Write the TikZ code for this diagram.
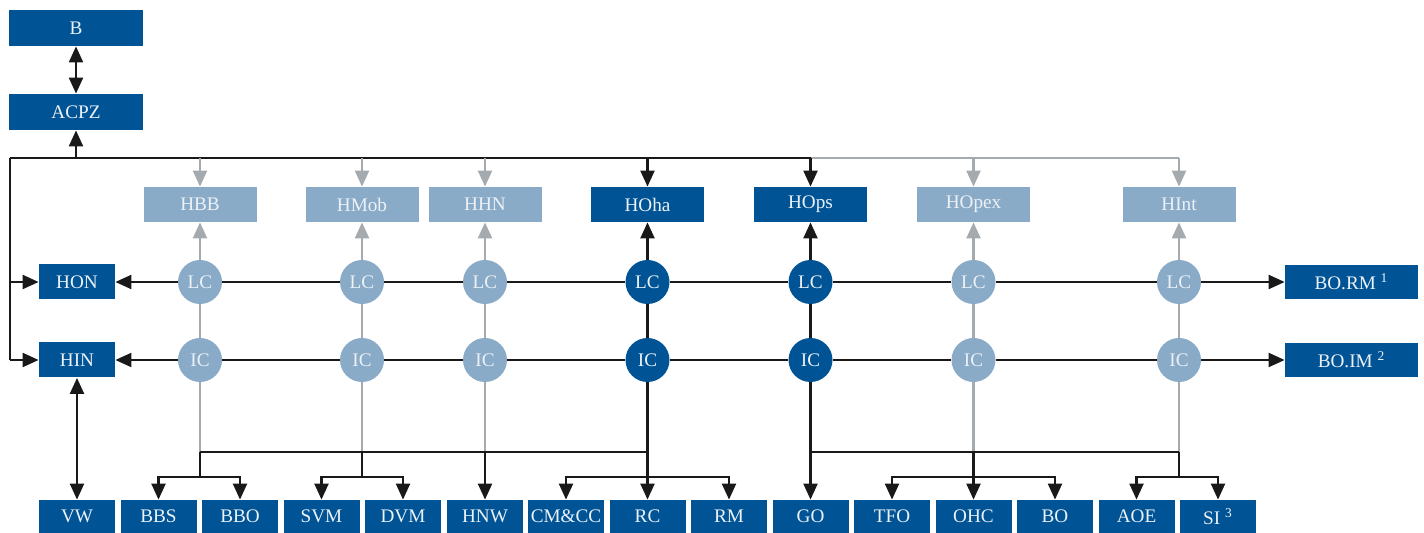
\documentclass[tikz,border=0pt]{standalone}
\usepackage{fontspec}
\setmainfont{Liberation Serif}
\usetikzlibrary{arrows.meta}
\definecolor{dkblue}{RGB}{0,84,150}
\definecolor{ltblue}{RGB}{138,171,200}
\definecolor{lnGray}{RGB}{165,170,174}
\definecolor{lnDark}{RGB}{25,25,25}
\definecolor{txtc}{RGB}{236,241,246}
\begin{document}
\begin{tikzpicture}[x=0.5pt,y=-0.5pt,
  box/.style={rectangle, inner sep=0pt, text=txtc, font=\fontsize{9.6}{12}\selectfont, minimum height=17.5pt},
  dbox/.style={box, fill=dkblue},
  lbox/.style={box, fill=ltblue},
  widebox/.style={minimum width=67pt, minimum height=18pt},
  midbox/.style={minimum width=56.5pt},
  smallbox/.style={minimum width=38pt},
  botbox/.style={dbox, minimum width=38pt, minimum height=16.5pt},
  rbox/.style={dbox, minimum width=66.5pt, minimum height=17pt},
  circ/.style={circle, inner sep=0pt, minimum size=22pt, text=txtc, font=\fontsize{9.6}{12}\selectfont},
  dcirc/.style={circ, fill=dkblue},
  lcirc/.style={circ, fill=ltblue},
  dline/.style={draw=lnDark, line width=1.1pt},
  gline/.style={draw=lnGray, line width=1.1pt},
  tip/.style={-{Triangle[length=8pt,width=7pt]}},
  tips/.style={{Triangle[length=8pt,width=7pt]}-{Triangle[length=8pt,width=7pt]}},
]
\useasboundingbox (0,0) rectangle (1424,533);

% left stack
\node[dbox,widebox] (B) at (76,28) {B};
\node[dbox,widebox] (ACPZ) at (76,112) {ACPZ};
\node[dbox,smallbox] (HON) at (77,282) {HON};
\node[dbox,smallbox] (HIN) at (77,360) {HIN};

% middle boxes
\node[lbox,midbox] (H1) at (200,204.5) {HBB};
\node[lbox,midbox] (H2) at (362,204.5) {HMob};
\node[lbox,midbox] (H3) at (485,204.5) {HHN};
\node[dbox,midbox] (H4) at (647.5,204.5) {HOha};
\node[dbox,midbox] (H5) at (810.5,204.5) {HOps};
\node[lbox,midbox] (H6) at (973.5,204.5) {HOpex};
\node[lbox,midbox] (H7) at (1179,204.5) {HInt};

% circles
\node[lcirc] (LC1) at (200,282) {LC};
\node[lcirc] (LC2) at (362,282) {LC};
\node[lcirc] (LC3) at (485,282) {LC};
\node[dcirc] (LC4) at (647.5,282) {LC};
\node[dcirc] (LC5) at (810.5,282) {LC};
\node[lcirc] (LC6) at (973.5,282) {LC};
\node[lcirc] (LC7) at (1179,282) {LC};
\node[lcirc] (IC1) at (200,360) {IC};
\node[lcirc] (IC2) at (362,360) {IC};
\node[lcirc] (IC3) at (485,360) {IC};
\node[dcirc] (IC4) at (647.5,360) {IC};
\node[dcirc] (IC5) at (810.5,360) {IC};
\node[lcirc] (IC6) at (973.5,360) {IC};
\node[lcirc] (IC7) at (1179,360) {IC};

% right boxes
\node[rbox] (BORM) at (1351.5,282) {BO.RM~\textsuperscript{1}};
\node[rbox] (BOIM) at (1351.5,360) {BO.IM~\textsuperscript{2}};

% bottom boxes
\node[botbox] (VW)   at (77,516.5) {VW};
\node[botbox] (BBS)  at (158.5,516.5) {BBS};
\node[botbox] (BBO)  at (240,516.5) {BBO};
\node[botbox] (SVM)  at (321.5,516.5) {SVM};
\node[botbox] (DVM)  at (403,516.5) {DVM};
\node[botbox] (HNW)  at (485,516.5) {HNW};
\node[botbox] (CMCC) at (566,516.5) {CM\&CC};
\node[botbox] (RC)   at (647.5,516.5) {RC};
\node[botbox] (RM)   at (729,516.5) {RM};
\node[botbox] (GO)   at (810.5,516.5) {GO};
\node[botbox] (TFO)  at (892,516.5) {TFO};
\node[botbox] (OHC)  at (973.5,516.5) {OHC};
\node[botbox] (BO)   at (1055,516.5) {BO};
\node[botbox] (AOE)  at (1136.5,516.5) {AOE};
\node[botbox] (SI)   at (1218,516.5) {SI~\textsuperscript{3}};

% helper coordinates
\coordinate (tL) at (10,158);
\coordinate (busB) at (0,452);
\coordinate (busS) at (0,477);

% top part
\draw[dline,tips] (B) -- (ACPZ);
\draw[dline] (tL) -- (LC5 |- tL);
\draw[gline] (LC5 |- tL) -- (LC7 |- tL);
\draw[dline,tip] (ACPZ.south |- tL) -- (ACPZ.south);
\draw[dline] (tL) -- (tL |- HIN);
\draw[dline,tip] (tL |- HON) -- (HON.west);
\draw[dline,tip] (tL |- HIN) -- (HIN.west);
\foreach \i in {1,2,3,6,7} {
  \draw[gline,tip] (H\i.north |- tL) -- (H\i.north);
  \draw[gline,tip] (LC\i) -- (H\i.south);
  \draw[gline] (LC\i) -- (IC\i);
  \draw[gline] (IC\i) -- (IC\i |- busB);
}
\foreach \i in {4,5} {
  \draw[dline,tip] (H\i.north |- tL) -- (H\i.north);
  \draw[dline,tip] (LC\i) -- (H\i.south);
  \draw[dline] (LC\i) -- (IC\i);
}

% rows
\draw[dline,tip] (LC1) -- (HON.east);
\draw[dline] (LC1) -- (LC2) -- (LC3) -- (LC4) -- (LC5) -- (LC6) -- (LC7);
\draw[dline,tip] (LC7) -- (BORM.west);
\draw[dline,tip] (IC1) -- (HIN.east);
\draw[dline] (IC1) -- (IC2) -- (IC3) -- (IC4) -- (IC5) -- (IC6) -- (IC7);
\draw[dline,tip] (IC7) -- (BOIM.west);
\draw[dline,tips] (HIN) -- (VW);

% bottom distribution
\draw[dline] (IC1 |- busB) -- (IC4 |- busB);
\draw[dline] (IC5 |- busB) -- (IC7 |- busB);
\draw[dline] (IC1 |- busB) -- (IC1 |- busS);
\draw[dline,tip] (IC1 |- busS) -| (BBS.north);
\draw[dline,tip] (IC1 |- busS) -| (BBO.north);
\draw[dline] (IC2 |- busB) -- (IC2 |- busS);
\draw[dline,tip] (IC2 |- busS) -| (SVM.north);
\draw[dline,tip] (IC2 |- busS) -| (DVM.north);
\draw[dline,tip] (IC3 |- busB) -- (HNW.north);
\draw[dline,tip] (IC4) -- (RC.north);
\draw[dline,tip] (IC4 |- busS) -| (CMCC.north);
\draw[dline,tip] (IC4 |- busS) -| (RM.north);
\draw[dline,tip] (IC5) -- (GO.north);
\draw[dline,tip] (IC6 |- busB) -- (OHC.north);
\draw[dline,tip] (IC6 |- busS) -| (TFO.north);
\draw[dline,tip] (IC6 |- busS) -| (BO.north);
\draw[dline] (IC7 |- busB) -- (IC7 |- busS);
\draw[dline,tip] (IC7 |- busS) -| (AOE.north);
\draw[dline,tip] (IC7 |- busS) -| (SI.north);
\end{tikzpicture}
\end{document}
